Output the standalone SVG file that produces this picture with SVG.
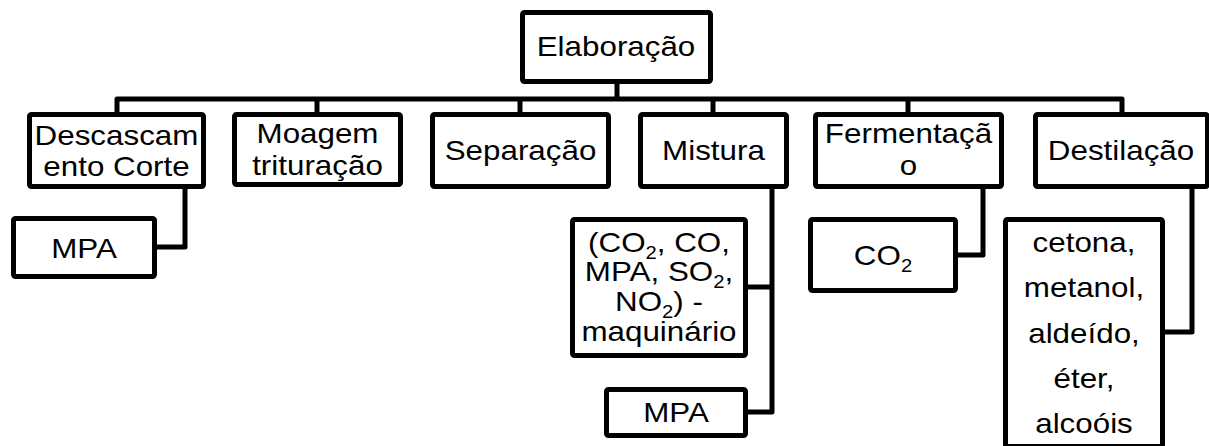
<svg xmlns="http://www.w3.org/2000/svg" width="1209" height="446" viewBox="0 0 1209 446">
  <style>
    .box { fill: #ffffff; stroke: #000000; stroke-width: 5; }
    .wire { fill: none; stroke: #000000; stroke-width: 5; stroke-linejoin: round; }
    .t { font-family: "Liberation Sans", Arial, Helvetica, sans-serif; font-size: 28px; fill: #000000; text-anchor: middle; }
    .sub { font-size: 18px; }
  </style>
  <rect width="1209" height="446" fill="#ffffff"/>

  <!-- connectors -->
  <g id="connectors">
    <path class="wire" d="M117,113 V99 H1122 V113"/>
    <path class="wire" d="M617,84 V99"/>
    <path class="wire" d="M317,99 V113"/>
    <path class="wire" d="M520,99 V113"/>
    <path class="wire" d="M713,99 V113"/>
    <path class="wire" d="M908,99 V113"/>
    <path class="wire" d="M185,188 V247 H157"/>
    <path class="wire" d="M772,188 V412 H748"/>
    <path class="wire" d="M772,287 H748"/>
    <path class="wire" d="M983,188 V255 H958"/>
    <path class="wire" d="M1192,188 V332 H1165"/>
  </g>

  <!-- root -->
  <g id="elaboracao">
    <rect class="box" x="522.5" y="12.5" width="188" height="69" rx="2"/>
    <text class="t" transform="translate(616 56) scale(1.12 1)">Elaboração</text>
  </g>

  <!-- stages -->
  <g id="descascamento">
    <rect class="box" x="29.5" y="114.5" width="174" height="72" rx="2"/>
    <text class="t" transform="translate(116.5 144.5) scale(1.12 1)">Descascam</text>
    <text class="t" transform="translate(116.5 176) scale(1.12 1)">ento Corte</text>
  </g>
  <g id="moagem">
    <rect class="box" x="234.5" y="114.5" width="166" height="70" rx="2"/>
    <text class="t" transform="translate(317.5 143) scale(1.12 1)">Moagem</text>
    <text class="t" transform="translate(317.5 175) scale(1.12 1)">trituração</text>
  </g>
  <g id="separacao">
    <rect class="box" x="432.5" y="114.5" width="176" height="72" rx="2"/>
    <text class="t" transform="translate(520.5 160) scale(1.12 1)">Separação</text>
  </g>
  <g id="mistura">
    <rect class="box" x="640.5" y="114.5" width="146" height="72" rx="2"/>
    <text class="t" transform="translate(713.5 160) scale(1.12 1)">Mistura</text>
  </g>
  <g id="fermentacao">
    <rect class="box" x="815.5" y="114.5" width="186" height="72" rx="2"/>
    <text class="t" transform="translate(908.5 143) scale(1.12 1)">Fermentaçã</text>
    <text class="t" transform="translate(908.5 175) scale(1.12 1)">o</text>
  </g>
  <g id="destilacao">
    <rect class="box" x="1035.5" y="114.5" width="172" height="72" rx="2"/>
    <text class="t" transform="translate(1121 160) scale(1.12 1)">Destilação</text>
  </g>

  <!-- outputs -->
  <g id="mpa-descascamento">
    <rect class="box" x="13.5" y="218.5" width="141" height="58" rx="2"/>
    <text class="t" transform="translate(84 258) scale(1.12 1)">MPA</text>
  </g>
  <g id="gases-mistura">
    <rect class="box" x="572.5" y="219.5" width="173" height="136" rx="2"/>
    <text class="t" transform="translate(659 0) scale(1.12 1)"><tspan x="0" y="252">(CO</tspan><tspan class="sub" dy="7">2</tspan><tspan dy="-7">, CO,</tspan><tspan x="0" y="281">MPA, SO</tspan><tspan class="sub" dy="7">2</tspan><tspan dy="-7">,</tspan><tspan x="0" y="311">NO</tspan><tspan class="sub" dy="7">2</tspan><tspan dy="-7">) -</tspan><tspan x="0" y="341">maquinário</tspan></text>
  </g>
  <g id="mpa-mistura">
    <rect class="box" x="606.5" y="389.5" width="139" height="46" rx="2"/>
    <text class="t" transform="translate(676 422) scale(1.12 1)">MPA</text>
  </g>
  <g id="co2-fermentacao">
    <rect class="box" x="810.5" y="219.5" width="145" height="71" rx="2"/>
    <text class="t" transform="translate(883 265) scale(1.12 1)">CO<tspan class="sub" dy="7">2</tspan></text>
  </g>
  <g id="compostos-destilacao">
    <rect class="box" x="1005.5" y="219.5" width="157" height="227" rx="2"/>
    <text class="t" transform="translate(1084 252) scale(1.12 1)">cetona,</text>
    <text class="t" transform="translate(1084 297) scale(1.12 1)">metanol,</text>
    <text class="t" transform="translate(1084 343) scale(1.12 1)">aldeído,</text>
    <text class="t" transform="translate(1084 388) scale(1.12 1)">éter,</text>
    <text class="t" transform="translate(1084 433) scale(1.12 1)">alcoóis</text>
  </g>
</svg>
